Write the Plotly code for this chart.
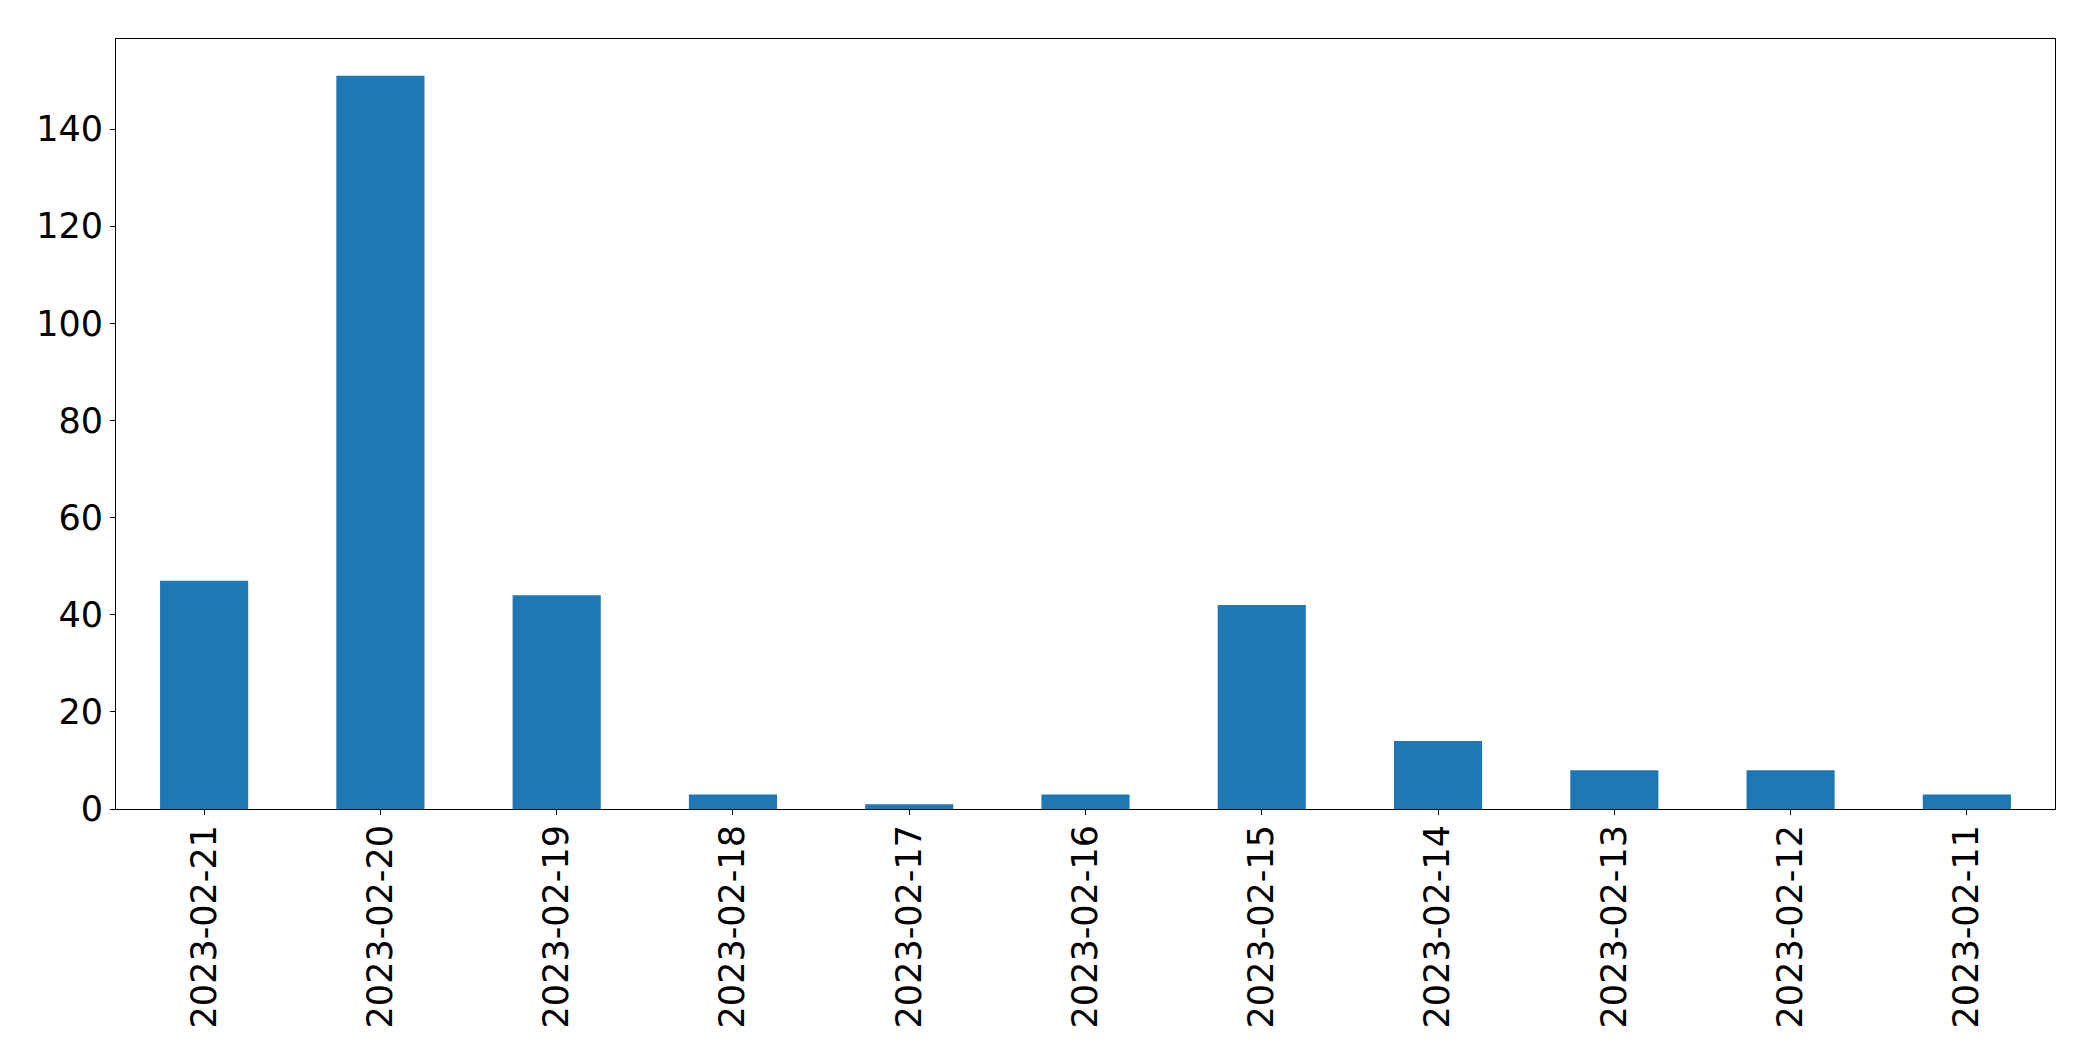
import plotly.graph_objects as go

dates = ["2023-02-21", "2023-02-20", "2023-02-19", "2023-02-18", "2023-02-17",
         "2023-02-16", "2023-02-15", "2023-02-14", "2023-02-13", "2023-02-12", "2023-02-11"]
counts = [47, 151, 44, 3, 1, 3, 42, 14, 8, 8, 3]
y_ticks = [0, 20, 40, 60, 80, 100, 120, 140]

fig = go.Figure(go.Bar(x=dates, y=counts, marker=dict(color="#1f77b4", line=dict(width=0)), width=0.5))

font = dict(family="DejaVu Sans", size=35, color="black")
# page body has an 8px default margin, compensate
fig.update_layout(
    width=2077, height=1045,
    margin=dict(l=108, r=30, t=31, b=244),
    paper_bgcolor="white", plot_bgcolor="white",
    showlegend=False,
    font=font,
)
fig.update_xaxes(
    type="category", range=[-0.5, 10.5], tickangle=-90,
    showline=True, linecolor="black", linewidth=1, mirror=True,
    ticks="outside", ticklen=5, tickcolor="black", showgrid=False,
    tickfont=font, ticklabelstandoff=-4,
)
fig.update_yaxes(
    range=[0, 158.55], tickvals=y_ticks,
    showline=True, linecolor="black", linewidth=1, mirror=True,
    ticks="outside", ticklen=5, tickcolor="black", showgrid=False, zeroline=False,
    tickfont=font, ticklabelstandoff=0,
)
fig.write_html("out.html")
